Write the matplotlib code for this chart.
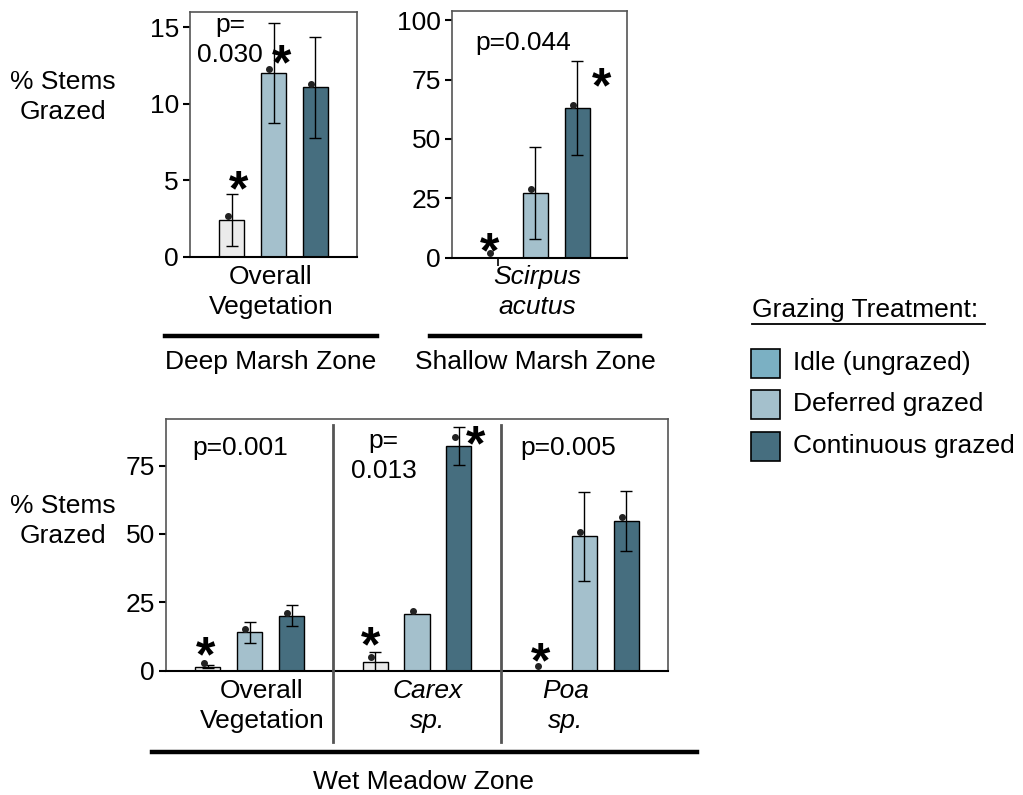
import matplotlib.pyplot as plt
import numpy as np
from matplotlib.lines import Line2D
from matplotlib.patches import Rectangle

plt.rcParams['font.family'] = ['Liberation Sans', 'DejaVu Sans']

# treatments and colours
treatments = ["Idle (ungrazed)", "Deferred grazed", "Continuous grazed"]
bar_colors = ["#EBEBEB", "#A4C0CC", "#466E7F"]
legend_colors = ["#7BB0C3", "#A4C0CC", "#466E7F"]

# Deep marsh zone, overall vegetation
deep_mean = [2.4, 12.0, 11.1]
deep_err = [1.7, 3.25, 3.3]
deep_dot = [2.7, 12.3, 11.3]

# Shallow marsh zone, Scirpus acutus
shallow_mean = [0.0, 27.3, 62.9]
shallow_err = [np.nan, 19.5, 19.8]
shallow_dot = [1.7, 28.9, 64.3]

# Wet meadow zone: overall vegetation, Carex sp., Poa sp.
wet_groups = ["Overall\nVegetation", "Carex\nsp.", "Poa\nsp."]
wet_italic = [False, True, True]
wet_mean = [[1.5, 14.0, 20.1], [3.3, 20.6, 82.2], [0.0, 49.1, 54.7]]
wet_err = [[0.5, 3.8, 3.8], [3.7, np.nan, 7.0], [np.nan, 16.2, 11.1]]
wet_dot = [[2.9, 15.3, 21.2], [5.0, 21.8, 85.5], [1.6, 50.6, 56.1]]
wet_p = ["p=0.001", "p=\n0.013", "p=0.005"]

W, H = 1023, 795
fig = plt.figure(figsize=(W / 100, H / 100), dpi=100)


def ax_at(l, r, t, b):
    return fig.add_axes([l / W, 1 - b / H, (r - l) / W, (b - t) / H])


def fx(x):
    return x / W


def fy(y):
    return 1 - y / H


FS = 19
LS = 1.32


def style(ax):
    for s in ax.spines.values():
        s.set_color("#555555")
        s.set_linewidth(1.2)
    ax.spines["bottom"].set_color("black")
    ax.spines["bottom"].set_linewidth(1.5)
    ax.tick_params(axis="y", labelsize=FS, length=5, width=1.5, direction="out", pad=3)
    ax.tick_params(axis="x", length=0, labelbottom=False)


def star(ax, x, y):
    ax.annotate("*", (x, y), xytext=(0, -0.55 * 36), textcoords="offset points",
                ha="center", va="baseline", fontsize=36, fontweight="bold")


def draw_bars(ax, xs, means, errs, dots):
    for x, m, e, d, c in zip(xs, means, errs, dots, bar_colors):
        if m > 0:
            ax.bar(x, m, width=0.6, color=c, edgecolor="black", linewidth=1, zorder=2)
        if not np.isnan(e):
            ax.errorbar(x, m, yerr=e, fmt="none", ecolor="black", elinewidth=1,
                        capsize=4, capthick=1, zorder=3)
        ax.plot(x - 0.1, d, "o", color="#222222", markersize=4, zorder=4)


pos = np.array([-1, 0, 1])

# ---- top left: deep marsh
ax1 = ax_at(190, 357, 12, 257)
draw_bars(ax1, pos, deep_mean, deep_err, deep_dot)
ax1.set_xlim(-2, 2)
ax1.set_ylim(0, 16)
ax1.set_yticks([0, 5, 10, 15])
style(ax1)
ax1.text(-1.04, 14.2, "p=\n0.030", ha="center", va="center", fontsize=FS, linespacing=LS)
star(ax1, -1 + 0.17, 5.2)
star(ax1, 0.2, 13.4)

# ---- top right: shallow marsh
ax2 = ax_at(452, 627, 11, 257.5)
draw_bars(ax2, pos, shallow_mean, shallow_err, shallow_dot)
ax2.set_xlim(-2, 2.2)
ax2.set_ylim(0, 104)
ax2.set_yticks([0, 25, 50, 75, 100])
style(ax2)
ax2.set_xticks([-0.9])
ax2.tick_params(axis="x", length=6, width=1.2)
ax2.text(-0.3, 90.4, "p=0.044", ha="center", va="center", fontsize=FS)
star(ax2, -1.1, 7.3)
star(ax2, 1.58, 77)

# ---- bottom: wet meadow
ax3 = ax_at(166, 668, 419, 670.7)
for g in range(3):
    draw_bars(ax3, pos + 4 * g, wet_mean[g], wet_err[g], wet_dot[g])
ax3.set_xlim(-2, 10)
ax3.set_ylim(0, 92)
ax3.set_yticks([0, 25, 50, 75])
style(ax3)
for xd in [2, 6]:
    ax3.axvline(xd, ymin=-0.283, ymax=0.975, color="#555555", linewidth=2, clip_on=False, zorder=5)
for g, (px, py) in enumerate([(-0.22, 81.5), (-0.8, 78.6), (-0.38, 81.5)]):
    ax3.text(4 * g + px, py, wet_p[g], ha="center", va="center", fontsize=FS, linespacing=LS)
star(ax3, -1.05, 10.0)
star(ax3, 4 - 1.1, 13.4)
star(ax3, 4 + 1.41, 87.0)
star(ax3, 8 - 1.05, 7.6)

# ---- labels
fig.text(fx(63), fy(97), "% Stems\nGrazed", ha="center", va="center", fontsize=FS, linespacing=LS)
fig.text(fx(63), fy(521), "% Stems\nGrazed", ha="center", va="center", fontsize=FS, linespacing=LS)

fig.text(fx(271), fy(292), "Overall\nVegetation", ha="center", va="center", fontsize=FS, linespacing=LS)
fig.text(fx(537), fy(292), "Scirpus\nacutus", ha="center", va="center", fontsize=FS,
         style="italic", linespacing=LS)
for cx, lab, it in zip([262, 428, 566], wet_groups, wet_italic):
    fig.text(fx(cx), fy(706), lab, ha="center", va="center", fontsize=FS, linespacing=LS,
             style="italic" if it else "normal")

for x0, x1, y in [(165, 377, 336), (430, 640, 336), (152, 697, 752)]:
    fig.add_artist(Line2D([fx(x0), fx(x1)], [fy(y), fy(y)], color="black", linewidth=3.2))

fig.text(fx(271), fy(362), "Deep Marsh Zone", ha="center", va="center", fontsize=FS)
fig.text(fx(535), fy(362), "Shallow Marsh Zone", ha="center", va="center", fontsize=FS)
fig.text(fx(423), fy(782), "Wet Meadow Zone", ha="center", va="center", fontsize=FS)

# ---- legend
fig.text(fx(752), fy(310), "Grazing Treatment:", ha="left", va="center", fontsize=FS)
fig.add_artist(Line2D([fx(752), fx(985)], [fy(324), fy(324)], color="black", linewidth=1.3))
for i, (lab, c) in enumerate(zip(treatments, legend_colors)):
    yc = 363 + i * 41.5
    fig.add_artist(Rectangle((fx(751), fy(yc + 14.5)), 29 / W, 29 / H, facecolor=c,
                             edgecolor="black", linewidth=1.2, transform=fig.transFigure))
    fig.text(fx(793), fy(yc), lab, ha="left", va="center", fontsize=FS)

fig.savefig("out.png", dpi=100)
